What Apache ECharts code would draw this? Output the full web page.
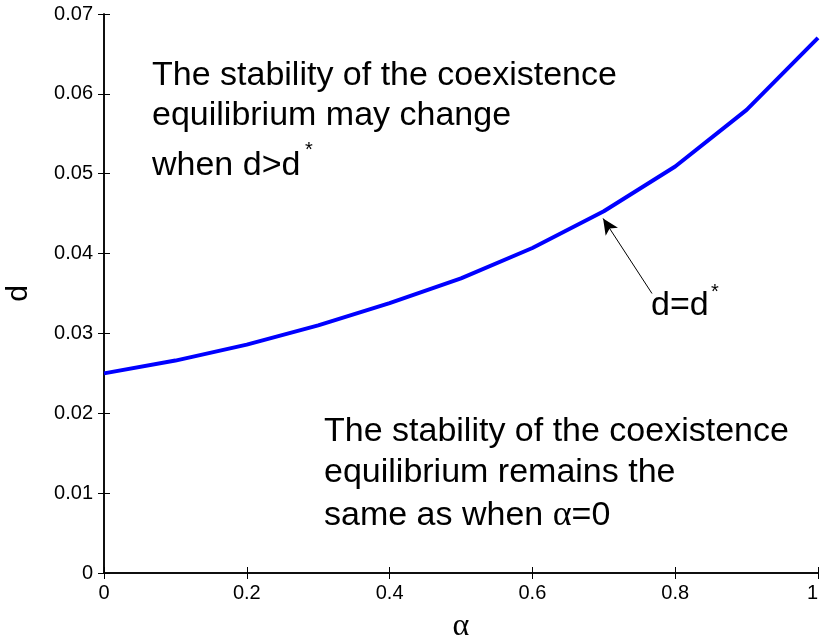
<!DOCTYPE html>
<html>
<head>
<meta charset="utf-8">
<script src="https://cdn.jsdelivr.net/npm/echarts@6/dist/echarts.min.js"></script>
<style>
  html, body { margin: 0; padding: 0; background: #fff; }
  #chart { width: 820px; height: 640px; }
</style>
</head>
<body>
<div id="chart"></div>
<script>
// Threshold curve d = d*(alpha)
const alphaValues = [0, 0.1, 0.2, 0.3, 0.4, 0.5, 0.6, 0.7, 0.8, 0.9, 1.0];
const dStar = [0.0250, 0.0266, 0.0286, 0.0310, 0.0338, 0.0369, 0.0407, 0.0453, 0.0509, 0.0580, 0.0670];
const xTicks = ['0', '0.2', '0.4', '0.6', '0.8', '1'];
const yTicks = ['0', '0.01', '0.02', '0.03', '0.04', '0.05', '0.06', '0.07'];
// arrow pointing at the curve: [tail, head]
const arrowTail = [0.7675, 0.0350];
const arrowHead = [0.699, 0.0444];

const SANS = 'Liberation Sans, Arial, Helvetica, sans-serif';
const SERIF = 'Liberation Serif, Times New Roman, serif';

const chart = echarts.init(document.getElementById('chart'), null, { renderer: 'canvas' });

const grid = { left: 104, right: 2, top: 14, bottom: 67, containLabel: false, outerBoundsMode: 'none' };

function xLabel(v) {
  const i = Math.round(v / 0.2);
  return xTicks[i] !== undefined ? xTicks[i] : '';
}
function yLabel(v) {
  const i = Math.round(v / 0.01);
  return yTicks[i] !== undefined ? yTicks[i] : '';
}

const axisLine = { show: true, lineStyle: { color: '#000', width: 1.5 } };
const tickIn = { show: true, inside: true, length: 6, lineStyle: { color: '#000', width: 1 } };

const bigText = (x, y, text, extra) => ({
  type: 'text',
  x: x, y: y,
  style: Object.assign({
    text: text,
    font: '34px ' + SANS,
    fill: '#000',
    verticalAlign: 'middle',
    align: 'left'
  }, extra || {})
});
const star = (x, y) => ({
  type: 'text',
  x: x, y: y,
  style: { text: '*', font: '20px ' + SANS, fill: '#000', align: 'center', verticalAlign: 'middle' }
});

chart.setOption({
  animation: false,
  backgroundColor: '#fff',
  grid: grid,
  xAxis: [
    {
      type: 'value', min: 0, max: 1, interval: 0.2, position: 'bottom',
      name: 'α', nameLocation: 'middle', nameGap: 38,
      nameTextStyle: { fontFamily: SERIF, fontSize: 32, color: '#000' },
      axisLine: axisLine, axisTick: tickIn,
      axisLabel: {
        formatter: xLabel, fontFamily: SANS, fontSize: 20, color: '#000', margin: 10,
        alignMaxLabel: 'right'
      },
      splitLine: { show: false }
    },
    {
      type: 'value', min: 0, max: 1, interval: 0.2, position: 'top',
      axisLine: axisLine, axisTick: tickIn, axisLabel: { show: false }, splitLine: { show: false }
    }
  ],
  yAxis: [
    {
      type: 'value', min: 0, max: 0.07, interval: 0.01, position: 'left',
      name: 'd', nameLocation: 'middle', nameGap: 70,
      nameTextStyle: { fontFamily: SANS, fontSize: 30, color: '#000' },
      axisLine: axisLine, axisTick: tickIn,
      axisLabel: { formatter: yLabel, fontFamily: SANS, fontSize: 20, color: '#000', margin: 11 },
      splitLine: { show: false }
    },
    {
      type: 'value', min: 0, max: 0.07, interval: 0.01, position: 'right',
      axisLine: axisLine, axisTick: tickIn, axisLabel: { show: false }, splitLine: { show: false }
    }
  ],
  series: [
    {
      type: 'line',
      data: alphaValues.map((a, i) => [a, dStar[i]]),
      showSymbol: false,
      lineStyle: { color: '#0000ff', width: 4 },
      clip: false,
      markLine: {
        silent: true,
        animation: false,
        symbol: ['none', 'arrow'],
        symbolSize: [11, 16],
        label: { show: false },
        lineStyle: { color: '#000', width: 1, type: 'solid' },
        itemStyle: { color: '#000' },
        data: [[{ coord: arrowTail }, { coord: arrowHead }]]
      }
    }
  ],
  graphic: [
    // upper region note
    bigText(152, 76, 'The stability of the coexistence'),
    bigText(152, 116, 'equilibrium may change'),
    bigText(152, 166, 'when d>d'),
    star(309, 150),
    // curve label
    bigText(651, 306, 'd=d'),
    star(715, 292),
    // lower region note
    bigText(324, 432, 'The stability of the coexistence'),
    bigText(324, 473, 'equilibrium remains the'),
    {
      type: 'text',
      x: 324, y: 516,
      style: {
        text: 'same as when {a|α}=0',
        font: '34px ' + SANS,
        fill: '#000',
        verticalAlign: 'middle',
        align: 'left',
        rich: { a: { fontFamily: SERIF, fontSize: 36, fill: '#000' } }
      }
    }
  ]
});
</script>
</body>
</html>
